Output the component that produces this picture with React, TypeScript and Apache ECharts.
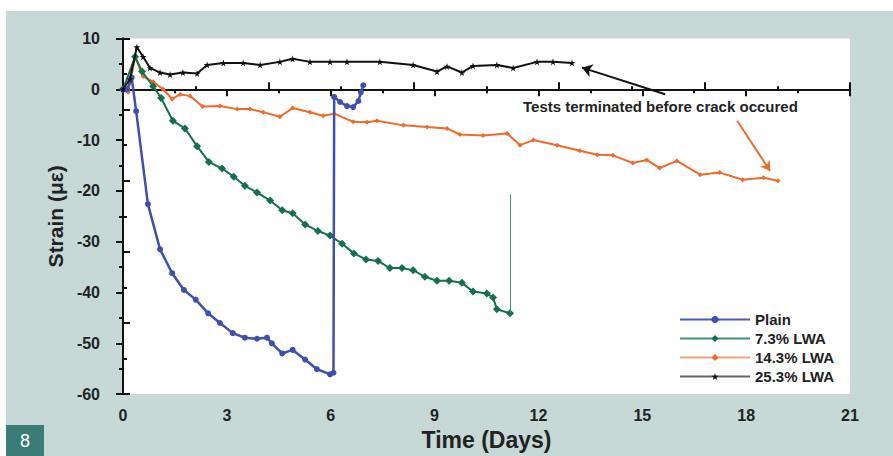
import React, { useEffect, useRef } from "react";
import * as echarts from "echarts";

const xTicks = [0, 3, 6, 9, 12, 15, 18, 21];
const yTicks = [-60, -50, -40, -30, -20, -10, 0, 10];

const seriesNames = ["Plain", "7.3% LWA", "14.3% LWA", "25.3% LWA"];

const plainDays = [0, 0.12, 0.25, 0.38, 0.72, 1.07, 1.42, 1.76, 2.1, 2.46, 2.8, 3.17, 3.52, 3.87, 4.16, 4.3, 4.6, 4.9, 5.26, 5.6, 5.98, 6.08, 6.1, 6.27, 6.47, 6.65, 6.8, 6.87, 6.94];
const plainStrain = [0, 0, 2.3, -4.3, -22.6, -31.5, -36.2, -39.5, -41.4, -44.1, -46, -48, -48.9, -49.1, -48.9, -50, -52, -51.3, -53.2, -55.1, -56.1, -55.8, -1.5, -2.5, -3.3, -3.5, -2.3, -0.6, 0.8];

const lwa73Days = [0, 0.35, 0.55, 0.87, 1.1, 1.44, 1.79, 2.14, 2.48, 2.86, 3.2, 3.52, 3.87, 4.25, 4.6, 4.9, 5.26, 5.63, 5.98, 6.33, 6.67, 7.02, 7.37, 7.71, 8.06, 8.38, 8.72, 9.07, 9.42, 9.79, 10.11, 10.51, 10.69, 10.8, 11.18];
const lwa73Strain = [0, 6.4, 3.5, 0.6, -1.7, -6.2, -7.7, -11.2, -14.3, -15.6, -17.2, -19, -20.3, -21.9, -23.8, -24.4, -26.6, -27.9, -28.8, -30.4, -32.3, -33.5, -33.8, -35.2, -35.2, -35.6, -36.9, -37.7, -37.7, -38.1, -39.8, -40.2, -41, -43.3, -44.1];
const lwa73EndJump = [11.2, -44.1, -20.7];

const lwa143Days = [0, 0.15, 0.35, 0.58, 0.87, 1.16, 1.42, 1.65, 1.94, 2.3, 2.8, 3.3, 3.67, 4.05, 4.53, 4.9, 5.4, 5.78, 6.1, 6.65, 7.05, 7.34, 8.1, 8.78, 9.36, 9.73, 10.4, 11.1, 11.47, 11.85, 12.54, 13.2, 13.7, 14.15, 14.73, 15.13, 15.5, 16, 16.67, 17.24, 17.9, 18.5, 18.92];
const lwa143Strain = [0, -0.6, 6.4, 2.5, 1.5, 0, -1.9, -1, -1.3, -3.4, -3.3, -3.9, -3.9, -4.5, -5.4, -3.7, -4.5, -5.2, -4.8, -6.4, -6.5, -6.2, -7.1, -7.4, -7.7, -8.9, -9.1, -8.7, -11, -10, -11, -12.1, -12.9, -13, -14.5, -13.9, -15.5, -14.1, -16.8, -16.4, -17.8, -17.4, -18];

const lwa253Days = [0, 0.2, 0.4, 0.58, 0.78, 1.07, 1.36, 1.73, 2.14, 2.43, 2.9, 3.47, 3.96, 4.53, 4.9, 5.4, 5.98, 6.47, 7.42, 8.38, 9.07, 9.36, 9.79, 10.11, 10.8, 11.27, 11.96, 12.42, 12.97];
const lwa253Strain = [0, 2, 8.3, 6.4, 4.2, 3.3, 2.9, 3.3, 3.1, 4.8, 5.2, 5.2, 4.8, 5.4, 6, 5.4, 5.4, 5.4, 5.4, 4.8, 3.5, 4.5, 3.3, 4.6, 4.8, 4.2, 5.4, 5.4, 5.2];

const blackArrow = [[15.66, -0.97], [13.26, 4.26]];
const orangeArrow = [[17.74, -6.2], [18.69, -16.05]];
const annotationText = "Tests terminated before crack occured";

const FONT = "'Liberation Sans', Arial, sans-serif";
const STAR = "path://M50,0L61,35L98,35L68,57L79,91L50,70L21,91L32,57L2,35L39,35Z";

const zip = (xs: number[], ys: number[]) => xs.map((x, i) => [x, ys[i]]);

export default function App() {
  const ref = useRef<HTMLDivElement>(null);
  useEffect(() => {
    if (!ref.current) return;
    const chart = echarts.init(ref.current, null, { renderer: "svg" });
    const axisLine = { show: true, lineStyle: { color: "#111", width: 2 } };
    chart.setOption({
      animation: false,
      backgroundColor: "#ffffff",
      grid: { left: 123, right: 43, top: 38.5, bottom: 56, show: true, backgroundColor: "#ffffff", borderWidth: 0 },
      graphic: [
        { type: "rect", z: -10, shape: { x: 6, y: 11, width: 887, height: 445 }, style: { fill: "#c6d9d6" } },
        { type: "rect", z: 10, shape: { x: 6, y: 425, width: 38, height: 31 }, style: { fill: "#3a7a77" } },
        { type: "text", z: 11, x: 25, y: 441, style: { text: "8", fill: "#ffffff", font: `18px ${FONT}`, align: "center", verticalAlign: "middle" } },
        { type: "text", z: 11, left: 523, top: 99, style: { text: annotationText, fill: "#222", font: `bold 15px ${FONT}` } },
      ],
      legend: {
        orient: "vertical",
        left: 679,
        top: 312,
        padding: 0,
        itemWidth: 70,
        itemHeight: 9,
        itemGap: 4,
        textStyle: { fontFamily: FONT, fontWeight: "bold", fontSize: 15, color: "#222" },
        data: [
          { name: seriesNames[0], lineStyle: { color: "#4a5bb5", width: 2 } },
          { name: seriesNames[1], lineStyle: { color: "#3f9075", width: 2 } },
          { name: seriesNames[2], lineStyle: { color: "#f2a27a", width: 2 } },
          { name: seriesNames[3], lineStyle: { color: "#666", width: 2 } },
        ],
      },
      xAxis: [
        {
          type: "value", min: 0, max: 21, interval: 3, position: "bottom",
          axisLine, splitLine: { show: false },
          axisTick: { show: true, length: 7, lineStyle: { width: 2, color: "#111" } },
          minorTick: { show: true, splitNumber: 2, length: 4, lineStyle: { width: 2, color: "#111" } },
          axisLabel: { margin: 13, fontFamily: FONT, fontWeight: "bold", fontSize: 16, color: "#222", customValues: xTicks },
          name: "Time (Days)", nameLocation: "middle", nameGap: 27,
          nameTextStyle: { fontFamily: FONT, fontWeight: "bold", fontSize: 23, color: "#222" },
        },
        {
          type: "value", min: 0, max: 21, interval: 4.2, position: "top",
          axisLine, splitLine: { show: false }, axisLabel: { show: false },
          axisTick: { show: true, length: 7, lineStyle: { width: 2, color: "#111" } },
          minorTick: { show: true, splitNumber: 2, length: 3, lineStyle: { width: 2, color: "#111" } },
        },
      ],
      yAxis: [
        {
          type: "value", min: -60, max: 10, interval: 10, position: "left",
          axisLine, splitLine: { show: false },
          axisTick: { show: true, length: 7, lineStyle: { width: 2, color: "#111" } },
          minorTick: { show: true, splitNumber: 2, length: 4, lineStyle: { width: 2, color: "#111" } },
          axisLabel: { margin: 23, fontFamily: FONT, fontWeight: "bold", fontSize: 16, color: "#222", customValues: yTicks },
          name: "Strain (\u03bc\u03b5)", nameLocation: "middle", nameGap: 49,
          nameTextStyle: { fontFamily: FONT, fontWeight: "bold", fontSize: 21, color: "#222" },
        },
        {
          type: "value", min: -60, max: 10, interval: 14, position: "right",
          axisLine, splitLine: { show: false }, axisLabel: { show: false },
          axisTick: { show: true, length: 7, lineStyle: { width: 2, color: "#111" } },
          minorTick: { show: true, splitNumber: 2, length: 4, lineStyle: { width: 2, color: "#111" } },
        },
      ],
      series: [
        {
          name: seriesNames[0], type: "line", xAxisIndex: 0, yAxisIndex: 0,
          data: zip(plainDays, plainStrain),
          symbol: "circle", symbolSize: 6, showAllSymbol: true,
          lineStyle: { color: "#3f4fb0", width: 2.5 }, itemStyle: { color: "#3f4fb0" }, z: 4,
        },
        {
          name: seriesNames[1], type: "line", xAxisIndex: 0, yAxisIndex: 0,
          data: zip(lwa73Days, lwa73Strain),
          symbol: "diamond", symbolSize: 8, showAllSymbol: true,
          lineStyle: { color: "#14704a", width: 2 }, itemStyle: { color: "#14704a" }, z: 3,
          markLine: {
            silent: true, symbol: ["none", "none"], label: { show: false },
            lineStyle: { color: "#3f9075", width: 1, type: "solid" },
            data: [[{ coord: [lwa73EndJump[0], lwa73EndJump[1]] }, { coord: [lwa73EndJump[0], lwa73EndJump[2]] }]],
          },
        },
        {
          name: seriesNames[2], type: "line", xAxisIndex: 0, yAxisIndex: 0,
          data: zip(lwa143Days, lwa143Strain),
          symbol: "diamond", symbolSize: 5, showAllSymbol: true,
          lineStyle: { color: "#f06a2a", width: 2 }, itemStyle: { color: "#f06a2a" }, z: 2,
          markLine: {
            silent: true, symbol: ["none", "arrow"], symbolSize: 9, label: { show: false },
            lineStyle: { color: "#f06a2a", width: 2, type: "solid" },
            data: [[{ coord: orangeArrow[0] }, { coord: orangeArrow[1] }]],
          },
        },
        {
          name: seriesNames[3], type: "line", xAxisIndex: 0, yAxisIndex: 0,
          data: zip(lwa253Days, lwa253Strain),
          symbol: STAR, symbolSize: 7, showAllSymbol: true,
          lineStyle: { color: "#111", width: 2 }, itemStyle: { color: "#111" }, z: 5,
          markLine: {
            silent: true, symbol: ["none", "arrow"], symbolSize: 10, label: { show: false },
            lineStyle: { color: "#111", width: 2, type: "solid" },
            data: [[{ coord: blackArrow[0] }, { coord: blackArrow[1] }]],
          },
        },
      ],
    });
    return () => chart.dispose();
  }, []);
  return <div ref={ref} style={{ position: "fixed", left: 0, top: 0, width: 893, height: 456 }} />;
}
